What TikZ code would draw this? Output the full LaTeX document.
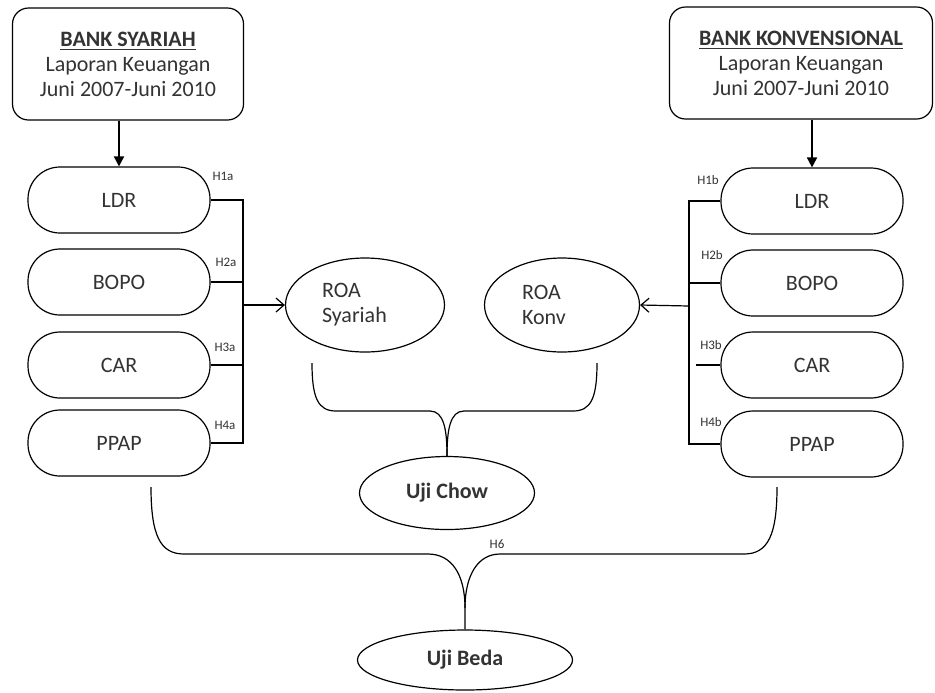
\documentclass[tikz,border=0pt]{standalone}
\usepackage{fontspec}
\setmainfont{Carlito}
\usetikzlibrary{arrows.meta,shapes.geometric}
\tikzset{
	pil/.style={draw, rectangle, rounded corners=16pt, minimum width=91pt, minimum height=33pt, inner sep=0pt},
	judul/.style={draw, rectangle, rounded corners=8pt, minimum height=56pt, inner sep=0pt, align=center},
	elips/.style={draw, ellipse, inner sep=0pt},
	hip/.style={font=\fontsize{6.5}{7.5}\selectfont, inner sep=0pt},
	panahisi/.style={-{Triangle[length=5pt,width=5pt]}, line width=0.9pt},
	panahbuka/.style={-{Straight Barb[length=4pt,width=7pt]}}
}

\begin{document}
\begin{tikzpicture}[x=0.5pt, y=-0.5pt, line width=0.6pt, font=\fontsize{11}{12.5}\selectfont, text=black!80]
			%%%%% START %%%%%
			\useasboundingbox (0,0) rectangle (935,692);
			
			\node[judul, minimum width=115.5pt] (sya) at (128,64) {\underline{\textbf{BANK SYARIAH}}\\Laporan Keuangan\\Juni 2007-Juni 2010};
			\node[judul, minimum width=131.5pt] (konv) at (801,63) {\underline{\textbf{BANK KONVENSIONAL}}\\Laporan Keuangan\\Juni 2007-Juni 2010};
			
			\node[pil] (ldrS) at (119,200) {LDR};
			\node[pil] (bopoS) at (119,282) {BOPO};
			\node[pil] (carS) at (119,365) {CAR};
			\node[pil] (ppapS) at (119,443) {PPAP};
			
			\node[pil] (ldrK) at (812,201) {LDR};
			\node[pil] (bopoK) at (812,283) {BOPO};
			\node[pil] (carK) at (812,365) {CAR};
			\node[pil] (ppapK) at (812,444) {PPAP};
			
			\node[elips, minimum width=79.5pt, minimum height=47pt, align=left, text width=43pt] (roaS) at (365,305) {ROA\\Syariah};
			\node[elips, minimum width=77.5pt, minimum height=47pt, align=left, text width=40pt] (roaK) at (562,305) {ROA\\Konv};
			\node[elips, minimum width=87.5pt, minimum height=36.5pt] (chow) at (447,493) {\textbf{Uji Chow}};
			\node[elips, minimum width=107.5pt, minimum height=30pt] (beda) at (465,660) {\textbf{Uji Beda}};
			
			\draw[panahisi] (sya.south -| ldrS) -- (ldrS.north);
			\draw[panahisi] (konv.south -| ldrK) -- (ldrK.north);
			
			% syariah
			\coordinate (busS) at (243,305);
			\draw (ldrS.east) -| (busS);
			\draw (ppapS.east) -| (busS);
			\draw (bopoS.east) -- (bopoS.east -| busS);
			\draw (carS.east) -- (carS.east -| busS);
			\draw[panahbuka] (busS) -- (roaS.west);
			\node[hip] (h1a) at (223,176) {H1a};
			\node[hip] (h2a) at (226,262) {H2a};
			\node[hip] (h3a) at (225,347) {H3a};
			\node[hip] (h4a) at (225,425) {H4a};
			
			% konvensional
			\coordinate (busK) at (689,306);
			\draw (ldrK.west) -| (busK);
			\draw (ppapK.west) -| (busK);
			\draw (bopoK.west) -- (bopoK.west -| busK);
			\draw (carK.west) -- ++(-24,0);
			\draw[panahbuka] (busK) -- (roaK.east);
			\node[hip] (h1b) at (708,180) {H1b};
			\node[hip] (h2b) at (712,255) {H2b};
			\node[hip] (h3b) at (711,345) {H3b};
			\node[hip] (h4b) at (711,422) {H4b};
			
			% uji chow
			\coordinate (chowL) at (312,363);
			\coordinate (chowR) at (597,363);
			\draw (chowL) .. controls (312,398) and (318,411) .. (336,411) -- (430,411) .. controls (444,411) and (447,430) .. (chow.north);
			\draw (chowR) .. controls (597,398) and (591,411) .. (573,411) -- (464,411) .. controls (450,411) and (447,430) .. (chow.north);
			
			% uji beda
			\coordinate (bedaL) at (151,487);
			\coordinate (bedaR) at (777,487);
			\draw (bedaL) .. controls (151,535) and (160,554) .. (184,554) -- (428,554) .. controls (452,554) and (465,575) .. (465,608) -- (beda.north);
			\draw (bedaR) .. controls (777,535) and (768,554) .. (744,554) -- (500,554) .. controls (478,554) and (465,575) .. (465,608);
			\node[hip] (h6) at (497,544) {H6};
			
			%%%%% END %%%%%
\end{tikzpicture}
\end{document}
